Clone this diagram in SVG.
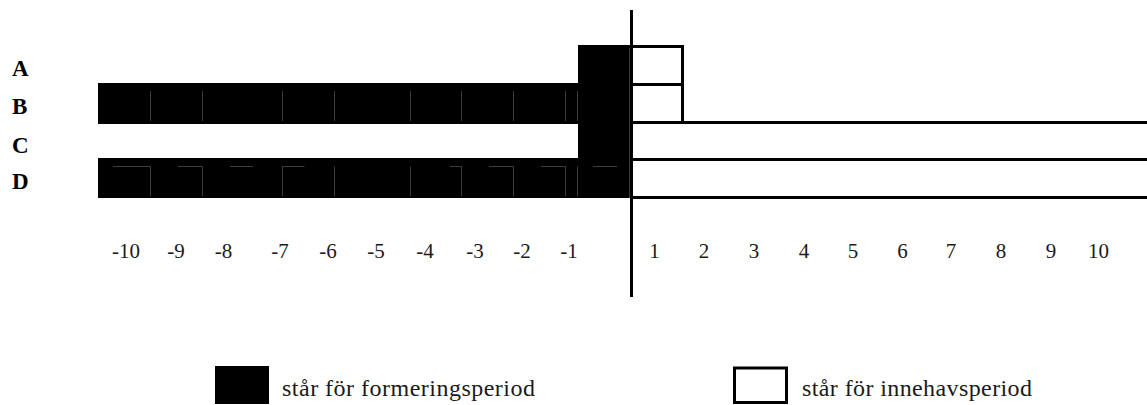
<svg xmlns="http://www.w3.org/2000/svg" width="1147" height="405" viewBox="0 0 1147 405">
  <style>
    .lbl { font-family: "Liberation Serif", "Times New Roman", serif; font-weight: bold; font-size: 23px; fill: #000; }
    .num { font-family: "Liberation Serif", "Times New Roman", serif; font-size: 21px; fill: #1a1a1a; text-anchor: middle; }
    .leg { font-family: "Liberation Serif", "Times New Roman", serif; font-size: 24px; fill: #1a1a1a; }
    .form { fill: #000; }
    .edge { stroke: #000; stroke-width: 3; fill: none; }
    .seam { stroke: #3c3c3c; stroke-width: 1; fill: none; }
  </style>

  <rect width="1147" height="405" fill="#fff"/>

  <!-- row labels -->
  <g id="row-labels">
    <text class="lbl" x="12" y="76">A</text>
    <text class="lbl" x="12" y="114">B</text>
    <text class="lbl" x="12" y="153">C</text>
    <text class="lbl" x="12" y="189">D</text>
  </g>

  <!-- formation periods (black) -->
  <g id="formation">
    <rect class="form" x="98" y="83" width="532" height="41"/>
    <rect class="form" x="98" y="158" width="532" height="40"/>
    <rect class="form" x="578" y="45" width="52" height="153"/>
    <!-- faint cell seams inside the black bars -->
    <path class="seam" d="M150.5 91v30M202.5 91v30M282.5 91v30M334.5 91v30M410.5 91v30M461.5 91v30M513.5 91v30M565.5 91v30M577.5 91v30M629.5 48v150"/>
    <path class="seam" d="M113 166.5h37.5v30M178 166.5h24.5v30M230 166.5h23M282.5 166.5h22M282.5 166.5v30M334.5 166.5v30M410.5 166.5v30M450 166.5h11.5v30M489 166.5h24.5v30M541 166.5h24.5v30M577.5 166.5v30M593 166.5h24"/>
  </g>

  <!-- holding periods (outlined) -->
  <g id="holding">
    <path class="edge" d="M633 46.5H682.5V122.5M633 84.5H682.5"/>
    <path class="edge" d="M633 122.5H1147M633 159.5H1147M633 197.5H1147"/>
  </g>

  <!-- time axis divider -->
  <g id="axis">
    <line x1="631.5" y1="10" x2="631.5" y2="297" stroke="#000" stroke-width="3"/>
  </g>

  <!-- period numbers -->
  <g id="period-numbers">
    <text class="num" x="126" y="258">-10</text>
    <text class="num" x="176" y="258">-9</text>
    <text class="num" x="223.5" y="258">-8</text>
    <text class="num" x="280" y="258">-7</text>
    <text class="num" x="328" y="258">-6</text>
    <text class="num" x="376" y="258">-5</text>
    <text class="num" x="425" y="258">-4</text>
    <text class="num" x="475" y="258">-3</text>
    <text class="num" x="522" y="258">-2</text>
    <text class="num" x="569" y="258">-1</text>
    <text class="num" x="654.5" y="258">1</text>
    <text class="num" x="704" y="258">2</text>
    <text class="num" x="754" y="258">3</text>
    <text class="num" x="804" y="258">4</text>
    <text class="num" x="853" y="258">5</text>
    <text class="num" x="902.5" y="258">6</text>
    <text class="num" x="951" y="258">7</text>
    <text class="num" x="1001" y="258">8</text>
    <text class="num" x="1051" y="258">9</text>
    <text class="num" x="1098.5" y="258">10</text>
  </g>

  <!-- legend -->
  <g id="legend-formation">
    <rect class="form" x="215" y="366" width="54" height="38"/>
    <text class="leg" x="282" y="396" textLength="253">står för formeringsperiod</text>
  </g>
  <g id="legend-holding">
    <rect class="edge" x="734.5" y="368" width="52" height="34.5"/>
    <text class="leg" x="802" y="396" textLength="230">står för innehavsperiod</text>
  </g>
</svg>
